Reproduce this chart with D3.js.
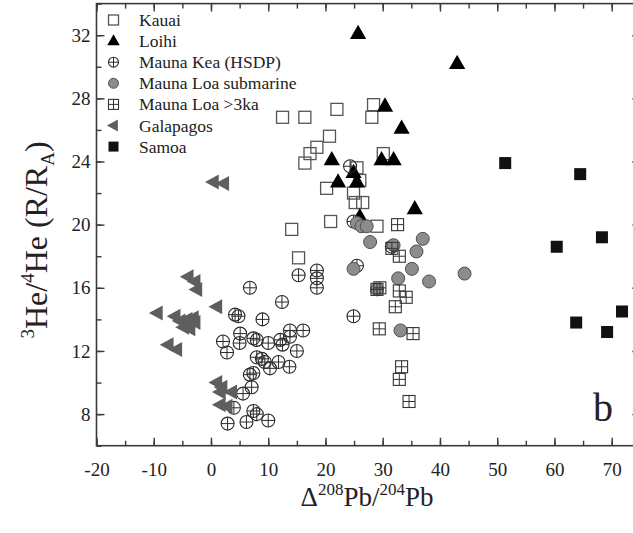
<!DOCTYPE html>
<html><head><meta charset="utf-8">
<script src="https://cdn.jsdelivr.net/npm/d3@7"></script>
<style>body{margin:0;background:#fff}svg{display:block}text{font-family:"Liberation Serif","Times New Roman",serif}</style>
</head><body>
<svg id="c" width="633" height="533"></svg>
<script>
// ---- data (x = Δ208Pb/204Pb, y = 3He/4He R/RA) ----
const kauaiX = [12.5,16.4,22.0,28.4,28.1,20.7,18.5,17.3,16.4,30.1,25.5,26.0,20.2,24.9,25.2,26.5,20.9,14.1,29.0,15.3];
const kauaiY = [26.8,26.8,27.3,27.6,26.8,25.6,24.9,24.5,23.9,24.5,23.6,22.8,22.3,22.0,21.4,21.4,20.2,19.7,19.9,17.9];
const loihiX = [25.7,43.0,30.4,33.3,21.1,29.8,31.9,22.2,24.9,25.5,35.6,26.0];
const loihiY = [32.1,30.2,27.5,26.1,24.1,24.1,24.1,22.7,23.3,22.7,21.0,20.5];
const keaX = [15.3,18.5,18.5,18.5,6.8,12.4,24.9,4.2,4.8,9.0,2.1,2.8,5.1,5.0,7.4,8.0,10.0,12.1,12.5,13.8,16.1,13.8,15.0,8.0,8.9,9.4,10.3,11.8,13.7,6.8,7.4,7.1,5.6,4.0,7.4,8.0,10.0,6.2,2.9,31.6,24.9,25.5,24.3];
const keaY = [16.8,17.1,16.6,16.0,16.0,15.1,14.2,14.3,14.2,14.0,12.6,11.9,13.1,12.5,12.8,12.7,12.5,12.7,12.4,13.3,13.3,12.9,12.0,11.6,11.5,11.3,10.9,11.3,11.0,10.5,10.6,9.7,9.3,8.4,8.2,8.0,7.6,7.5,7.4,18.6,20.2,17.4,23.7];
const loaSubX = [25.5,26.3,27.2,27.8,31.9,37.0,35.9,35.1,32.7,38.1,24.9,29.0,33.1,44.3];
const loaSubY = [20.1,19.9,19.9,18.9,18.7,19.1,18.3,17.2,16.6,16.4,17.2,15.9,13.3,16.9];
const loa3kaX = [32.6,31.6,32.9,29.0,29.5,32.9,34.1,32.2,29.4,35.3,33.3,32.9,34.6];
const loa3kaY = [20.0,18.5,18.0,15.9,16.0,15.8,15.4,14.8,13.4,13.1,11.0,10.2,8.8];
const galX = [0.4,2.2,-4.0,-2.8,-2.5,1.0,-9.4,-6.3,-5.4,-4.2,-3.1,-2.8,-3.7,-4.8,-7.5,-6.0,1.0,1.9,3.6,1.6,1.6,2.8];
const galY = [22.7,22.6,16.7,16.4,15.9,14.8,14.4,14.2,13.9,14.0,14.1,13.8,13.4,13.5,12.4,12.1,10.0,9.7,9.4,9.4,8.6,8.5];
const samoaX = [51.4,64.5,60.4,68.3,63.8,69.2,71.8];
const samoaY = [23.9,23.2,18.6,19.2,13.8,13.2,14.5];
const seriesNames = ["Kauai","Loihi","Mauna Kea (HSDP)","Mauna Loa submarine","Mauna Loa >3ka","Galapagos","Samoa"];
const xTicks = [-20,-10,0,10,20,30,40,50,60,70];
const yTicks = [8,12,16,20,24,28,32];

const svg = d3.select("#c");
const x = d3.scaleLinear().domain([-20,75]).range([96.5,640.3]);
const y = d3.scaleLinear().domain([6,34]).range([445.7,3.6]);
const axisCol = "#3a3a3a";
const font = "'Liberation Serif','Times New Roman',serif";

const xMinor = d3.range(-20,76,5), yMinor = d3.range(6,35,2);
function styleAxis(g){ g.attr("font-family",null).style("font-family",font); g.selectAll(".domain").remove(); g.selectAll("line").attr("stroke",axisCol).attr("stroke-width",1.4); g.selectAll("text").style("font-family",font).attr("font-size",19).attr("fill","#222"); }
const fmt = d => String(d);
// minor ticks
svg.append("g").attr("transform",`translate(0,${y(6)})`).call(d3.axisBottom(x).tickValues(xMinor).tickSize(-5).tickFormat("")).call(styleAxis);
svg.append("g").attr("transform",`translate(0,${y(34)})`).call(d3.axisTop(x).tickValues(xMinor).tickSize(-5).tickFormat("")).call(styleAxis);
svg.append("g").attr("transform",`translate(${x(-20)},0)`).call(d3.axisLeft(y).tickValues(yMinor).tickSize(-5).tickFormat("")).call(styleAxis);
svg.append("g").attr("transform",`translate(${x(75)},0)`).call(d3.axisRight(y).tickValues(yMinor).tickSize(-5).tickFormat("")).call(styleAxis);
// major ticks
svg.append("g").attr("transform",`translate(0,${y(6)})`).call(d3.axisBottom(x).tickValues(xTicks).tickSize(-8).tickPadding(17).tickFormat(fmt)).call(styleAxis);
svg.append("g").attr("transform",`translate(0,${y(34)})`).call(d3.axisTop(x).tickValues(xTicks).tickSize(-8).tickFormat("")).call(styleAxis);
svg.append("g").attr("transform",`translate(${x(-20)},0)`).call(d3.axisLeft(y).tickValues(yTicks).tickSize(-8).tickPadding(6).tickFormat(fmt)).call(styleAxis);
svg.append("g").attr("transform",`translate(${x(75)},0)`).call(d3.axisRight(y).tickValues(yTicks).tickSize(-8).tickFormat("")).call(styleAxis);
// frame
svg.append("rect").attr("x",x(-20)).attr("y",y(34)).attr("width",x(75)-x(-20)).attr("height",y(6)-y(34))
  .attr("fill","none").attr("stroke",axisCol).attr("stroke-width",1.6);

// markers
function drawMarker(g, type, s){
  if(type==="sqOpen"){ g.append("rect").attr("x",-s/2).attr("y",-s/2).attr("width",s).attr("height",s).attr("fill","none").attr("stroke","#555").attr("stroke-width",1.3); }
  else if(type==="triUp"){ const w=s*1.25,h=s*1.1; g.append("path").attr("d",`M0,${-h*0.62}L${w/2},${h*0.38}L${-w/2},${h*0.38}Z`).attr("fill","#000"); }
  else if(type==="circPlus"){ const r=s/2; g.append("circle").attr("r",r).attr("fill","none").attr("stroke","#2a2a2a").attr("stroke-width",1.1);
    g.append("path").attr("d",`M${-r},0H${r}M0,${-r}V${r}`).attr("stroke","#2a2a2a").attr("stroke-width",1); }
  else if(type==="circGray"){ g.append("circle").attr("r",s/2).attr("fill","#8c8c8c").attr("stroke","#505050").attr("stroke-width",1); }
  else if(type==="sqGrid"){ const h=s/2; g.append("rect").attr("x",-h).attr("y",-h).attr("width",s).attr("height",s).attr("fill","none").attr("stroke","#333").attr("stroke-width",1.1);
    g.append("path").attr("d",`M${-h},0H${h}M0,${-h}V${h}`).attr("stroke","#333").attr("stroke-width",1); }
  else if(type==="triLeft"){ const w=s*1.1,h=s*1.2; g.append("path").attr("d",`M${-w*0.6},0L${w*0.4},${-h/2}L${w*0.4},${h/2}Z`).attr("fill","#5e5e5e"); }
  else if(type==="sqFill"){ g.append("rect").attr("x",-s/2).attr("y",-s/2).attr("width",s).attr("height",s).attr("fill","#111"); }
}
const series = [
  {xs:kauaiX, ys:kauaiY, type:"sqOpen", s:12},
  {xs:loihiX, ys:loihiY, type:"triUp", s:13},
  {xs:keaX, ys:keaY, type:"circPlus", s:13},
  {xs:loaSubX, ys:loaSubY, type:"circGray", s:13},
  {xs:loa3kaX, ys:loa3kaY, type:"sqGrid", s:12},
  {xs:galX, ys:galY, type:"triLeft", s:12.5},
  {xs:samoaX, ys:samoaY, type:"sqFill", s:12}
];
series.forEach(sr=>{
  const g = svg.append("g");
  sr.xs.forEach((v,i)=>{ drawMarker(g.append("g").attr("transform",`translate(${x(v)},${y(sr.ys[i])})`), sr.type, sr.s); });
});

// legend
const lg = svg.append("g");
seriesNames.forEach((n,i)=>{
  const cy = 20 + i*21.1;
  drawMarker(lg.append("g").attr("transform",`translate(113.5,${cy})`), series[i].type, 10);
  lg.append("text").attr("x",139).attr("y",cy+6).style("font-family",font).attr("font-size",17.5).attr("fill","#222").text(n);
});

// panel letter
svg.append("text").attr("x",603).attr("y",421).attr("text-anchor","middle").style("font-family",font).attr("font-size",40).attr("fill","#222").text("b");

// x title
const xt = svg.append("text").attr("x",367).attr("y",506).attr("text-anchor","middle").style("font-family",font).attr("font-size",27).attr("fill","#222");
xt.append("tspan").text("Δ");
xt.append("tspan").attr("font-size",17).attr("dy",-11).text("208");
xt.append("tspan").attr("dy",11).text("Pb/");
xt.append("tspan").attr("font-size",17).attr("dy",-11).text("204");
xt.append("tspan").attr("dy",11).text("Pb");

// y title
const yt = svg.append("text").attr("transform","translate(47,240) rotate(-90)").attr("text-anchor","middle").style("font-family",font).attr("font-size",32).attr("fill","#222");
yt.append("tspan").attr("font-size",19).attr("dy",-13).text("3");
yt.append("tspan").attr("dy",13).text("He/");
yt.append("tspan").attr("font-size",19).attr("dy",-13).text("4");
yt.append("tspan").attr("dy",13).text("He (R/R");
yt.append("tspan").attr("font-size",19).attr("dy",7).text("A");
yt.append("tspan").attr("dy",-7).text(")");
</script>
</body></html>
